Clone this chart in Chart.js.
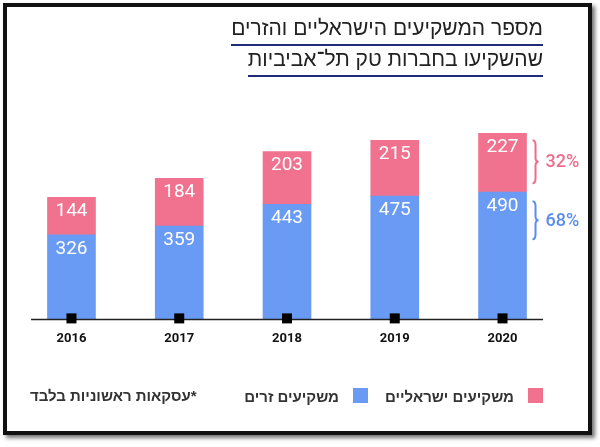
<!DOCTYPE html>
<html lang="he">
<head>
<meta charset="utf-8">
<script src="https://cdn.jsdelivr.net/npm/chart.js@4.4.1/dist/chart.umd.min.js"></script>
<style>
  html, body { margin: 0; padding: 0; background: #fff; }
  #wrap { position: relative; width: 600px; height: 447px; overflow: hidden; background: #fff; }
  #frame {
    position: absolute; left: 3px; top: 3px; width: 589px; height: 432px;
    box-sizing: border-box; border: 4px solid #111;
    box-shadow: 3px 3px 4px rgba(0,0,0,0.55);
  }
  canvas { position: absolute; left: 0; top: 0; }
  .title {
    position: absolute; right: 57px; direction: rtl;
    font-family: "Liberation Sans", Arial, sans-serif; font-size: 21px; color: #222;
    line-height: 24px; padding-bottom: 4px; border-bottom: 2px solid #1f2c7a; white-space: nowrap;
  }
  .leg {
    position: absolute; direction: rtl; white-space: nowrap;
    font-family: "Liberation Sans", Arial, sans-serif; font-size: 15px; font-weight: bold; color: #333;
    line-height: 18px;
  }
  .sq { position: absolute; width: 15px; height: 15px; }
</style>
</head>
<body>
<div id="wrap">
  <div id="frame"></div>
  <canvas id="chart" width="600" height="447"></canvas>
  <div class="title" style="top:16px;">מספר המשקיעים הישראליים והזרים</div>
  <div class="title" style="top:47px;">שהשקיעו בחברות טק תל־אביביות</div>

  <div class="sq" style="left:528px; top:388px; background:#f0728f;"></div>
  <div class="leg" style="right:86px; top:388px;">משקיעים ישראליים</div>
  <div class="sq" style="left:353px; top:388px; background:#6a9bf4;"></div>
  <div class="leg" style="right:261px; top:388px;">משקיעים זרים</div>
  <div class="leg" style="left:30px; top:387px;">*עסקאות ראשוניות בלבד</div>
</div>

<script>
const years = ['2016', '2017', '2018', '2019', '2020'];
const foreignInvestors = [326, 359, 443, 475, 490];
const israeliInvestors = [144, 184, 203, 215, 227];

const pink = '#f0728f';
const blue = '#6a9bf4';

// white numbers inside the segments, black squares on the base line, braces next to the last bar
const extras = {
  id: 'extras',
  afterDatasetsDraw(chart) {
    const ctx = chart.ctx;
    const xScale = chart.scales.x;
    const yScale = chart.scales.y;
    const baseY = yScale.getPixelForValue(0);

    ctx.save();
    ctx.textAlign = 'center';
    ctx.textBaseline = 'middle';
    ctx.fillStyle = '#fff';
    ctx.font = '19px Roboto, sans-serif';
    chart.data.datasets.forEach((ds, i) => {
      chart.getDatasetMeta(i).data.forEach((bar, j) => {
        ctx.fillText(String(ds.data[j]), bar.x, bar.y + 14);
      });
    });

    // base line
    ctx.strokeStyle = '#222';
    ctx.lineWidth = 1.5;
    ctx.beginPath();
    ctx.moveTo(31, baseY);
    ctx.lineTo(543, baseY);
    ctx.stroke();

    ctx.fillStyle = '#000';
    years.forEach((y, j) => {
      const x = xScale.getPixelForValue(j);
      ctx.fillRect(x - 5, baseY - 6, 10, 10);
    });

    // braces for last year
    const last = years.length - 1;
    const total = foreignInvestors[last] + israeliInvestors[last];
    const blueBar = chart.getDatasetMeta(0).data[last];
    const pinkBar = chart.getDatasetMeta(1).data[last];
    const bx = pinkBar.x + pinkBar.width / 2 + 6;
    const brace = (top, bottom, color, label) => {
      const mid = (top + bottom) / 2;
      const w = 6;
      ctx.strokeStyle = color;
      ctx.lineWidth = 2;
      ctx.beginPath();
      ctx.moveTo(bx, top);
      ctx.quadraticCurveTo(bx + w / 2, top, bx + w / 2, top + 5);
      ctx.lineTo(bx + w / 2, mid - 4);
      ctx.quadraticCurveTo(bx + w / 2, mid, bx + w, mid);
      ctx.quadraticCurveTo(bx + w / 2, mid, bx + w / 2, mid + 4);
      ctx.lineTo(bx + w / 2, bottom - 5);
      ctx.quadraticCurveTo(bx + w / 2, bottom, bx, bottom);
      ctx.stroke();
      ctx.fillStyle = color;
      ctx.font = '500 18px Roboto, sans-serif';
      ctx.textAlign = 'left';
      ctx.fillText(label, bx + 13, mid + 1);
    };
    brace(pinkBar.y + 7, pinkBar.base - 9, '#ee6c8c',
      Math.round(israeliInvestors[last] / total * 100) + '%');
    brace(blueBar.y + 9, blueBar.y + 47, '#5b8def',
      Math.round(foreignInvestors[last] / total * 100) + '%');
    ctx.restore();
  }
};

new Chart(document.getElementById('chart'), {
  type: 'bar',
  data: {
    labels: years,
    datasets: [
      { label: 'משקיעים זרים', data: foreignInvestors, backgroundColor: blue, barThickness: 48 },
      { label: 'משקיעים ישראליים', data: israeliInvestors, backgroundColor: pink, barThickness: 48 }
    ]
  },
  options: {
    responsive: false,
    animation: false,
    layout: { padding: { left: 17.6, right: 43.6, top: 111.7, bottom: 88 } },
    plugins: { legend: { display: false }, tooltip: { enabled: false } },
    scales: {
      x: {
        stacked: true,
        grid: { display: false, drawTicks: false },
        border: { display: false },
        ticks: { color: '#111', font: { family: 'Roboto', size: 13, weight: 'bold' }, padding: 12 }
      },
      y: { stacked: true, display: false, min: 0, max: 800 }
    }
  },
  plugins: [extras]
});
</script>
</body>
</html>
